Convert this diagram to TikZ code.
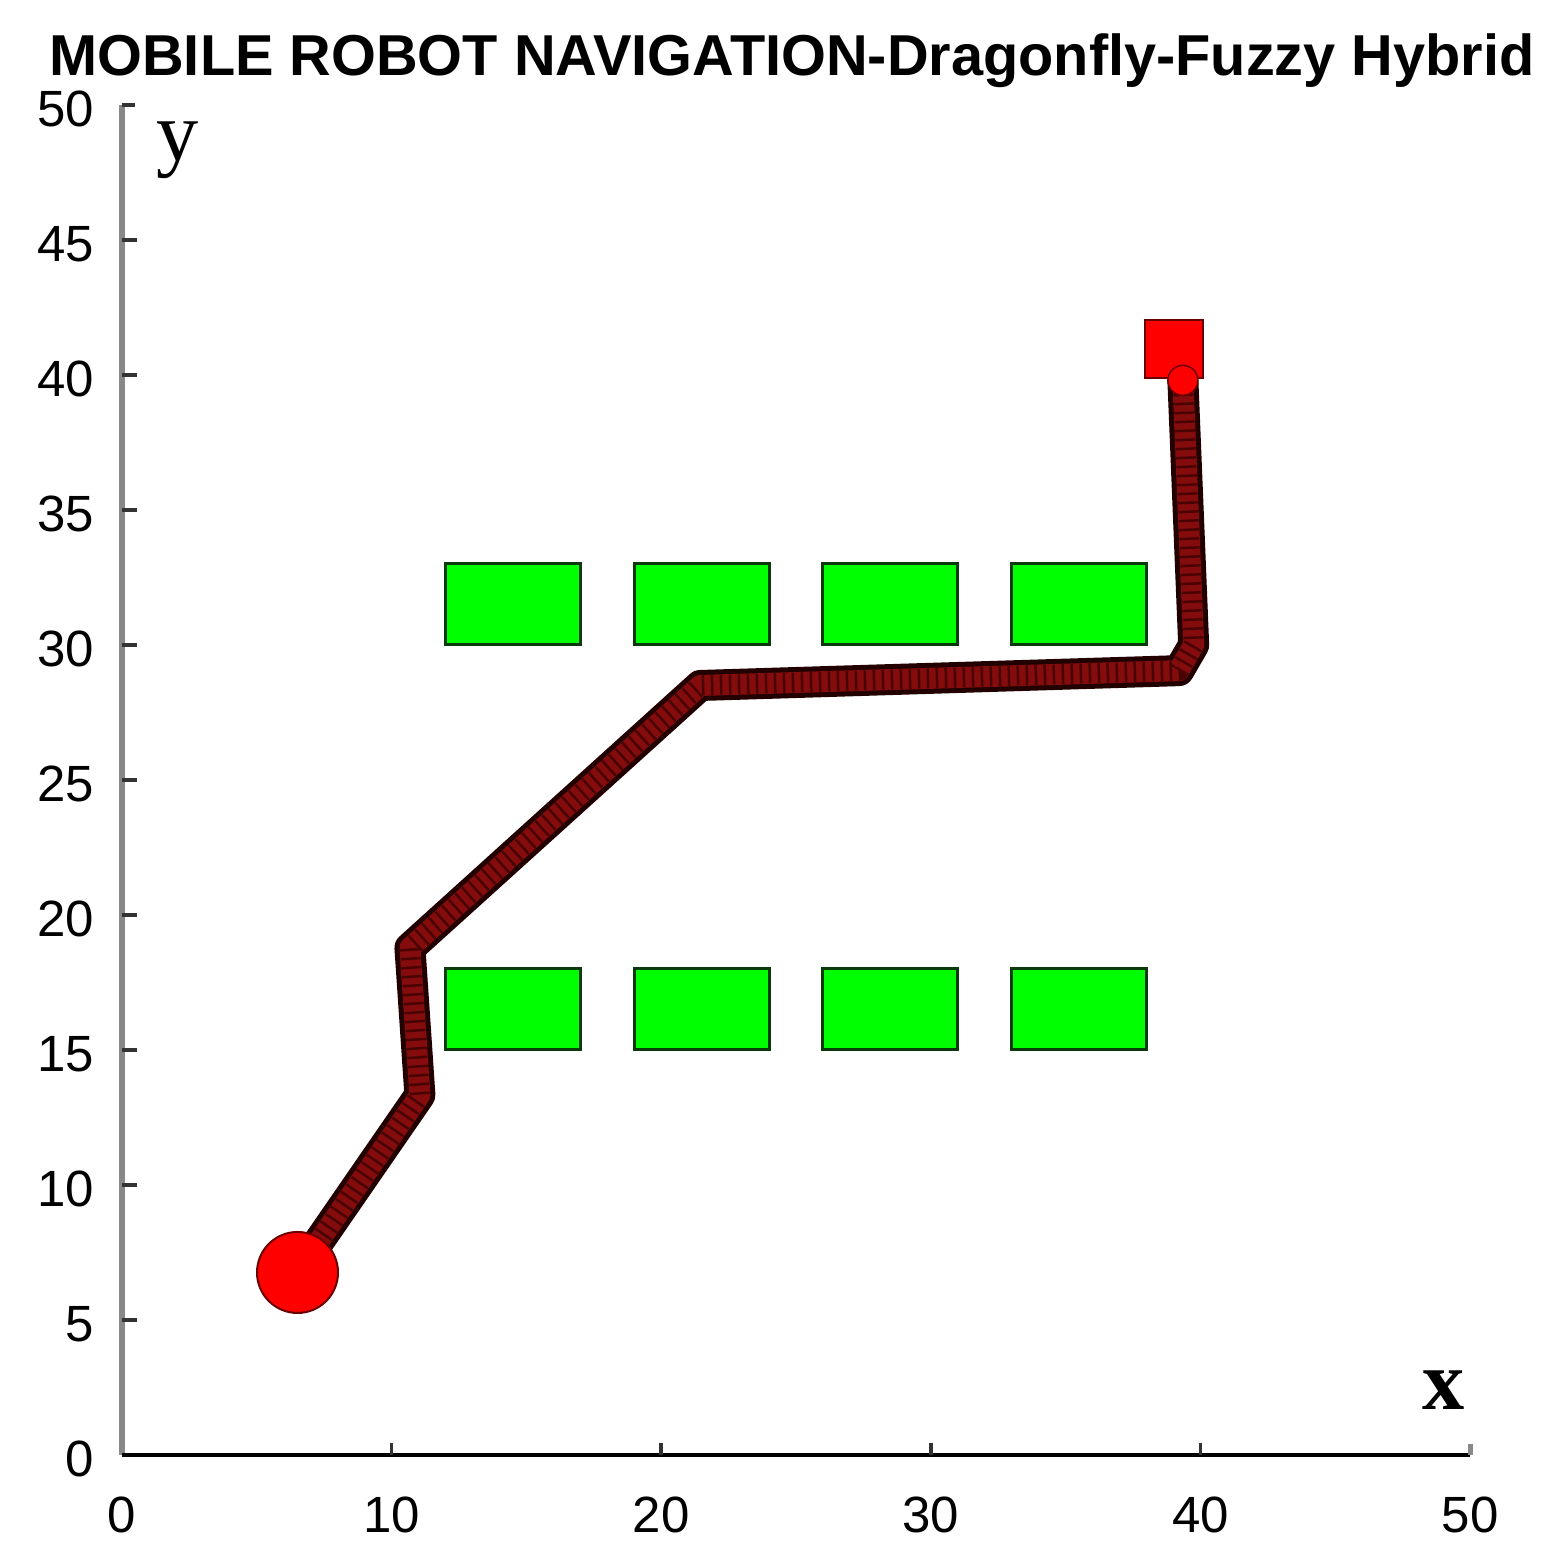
\documentclass[tikz,border=0pt]{standalone}
\usepackage{fontspec}
\setmainfont{Liberation Sans}
\newfontfamily\serifx{Liberation Serif}
\pgfdeclarelayer{bg}
\pgfsetlayers{bg,main}
\definecolor{obstfill}{HTML}{00FF00}
\definecolor{obstedge}{HTML}{0A3A0A}
\definecolor{darkred}{HTML}{6A0000}
\definecolor{pathdark}{HTML}{220000}
\definecolor{pathmid}{HTML}{850C0C}
\definecolor{pathstripe}{HTML}{4A0303}
\definecolor{axisgray}{HTML}{888888}
\definecolor{tickc}{HTML}{333333}
\begin{document}
\begin{tikzpicture}[x=0.2696cm,y=0.27cm,
  obst/.style={draw=obstedge,fill=obstfill,line width=0.03cm},
  startdot/.style={circle,draw=darkred,fill=red,line width=0.02cm,minimum size=0.81cm,inner sep=0pt},
  goalbox/.style={rectangle,draw=darkred,fill=red,line width=0.025cm,minimum size=0.58cm,inner sep=0pt},
  enddot/.style={circle,draw=darkred,fill=red,line width=0.015cm,minimum size=0.3cm,inner sep=0pt},
  ticklab/.style={font=\fontsize{14.5}{16}\selectfont,inner sep=0pt},
  axlab/.style={font=\serifx\fontsize{24}{28}\selectfont,inner sep=0pt,anchor=base},
  pathouter/.style={line width=0.31cm,draw=pathdark,line join=round},
  pathinner/.style={line width=0.21cm,draw=pathmid,line join=round},
  pathmarks/.style={line width=0.20cm,draw=pathstripe,dash pattern=on 0.025cm off 0.065cm,line join=round}]
\path[use as bounding box] (-4.525,-3.778) rectangle (53.635,53.889);
\begin{pgfonlayer}{bg}
\fill[white] (-4.525,-3.778) rectangle (53.635,53.889);
\end{pgfonlayer}
% title
\node[anchor=base,inner sep=0pt] (title) at (24.85,51.1) {\resizebox{14.85cm}{!}{\bfseries MOBILE ROBOT NAVIGATION-Dragonfly-Fuzzy Hybrid}};
% axes
\draw[axisgray,line width=0.06cm] (0,0) -- (0,50);
\draw[black,line width=0.04cm] (0,0) -- (50,0);
\foreach \v in {5,10,...,45} \draw[tickc,line width=0.035cm] (0,\v) -- ++(0.56,0);
\draw[tickc,line width=0.035cm] (0,50) -- ++(0.5,0);
\foreach \v in {10,20,30,40} \draw[tickc,line width=0.035cm] (\v,0) -- ++(0,0.44);
\draw[axisgray,line width=0.05cm] (50,0) -- ++(0,0.4);
\foreach \v in {0,5,...,50} \node[ticklab,anchor=east] (yl\v) at (-1.0,\v-0.15) {\v};
\foreach \v in {0,10,...,50} \node[ticklab] (xl\v) at (\v,-2.22) {\v};
\node[axlab] (ylab) at (2.08,47.96) {y};
\node[axlab,font=\serifx\bfseries\fontsize{24}{28}\selectfont] (xlab) at (49.03,1.67) {x};
% obstacles
\foreach \a/\b in {12/17,19/24,26/31,33/38} {
  \draw[obst] (\a,30) rectangle (\b,33);
  \draw[obst] (\a,15) rectangle (\b,18);
}
% path waypoints
\coordinate (p1) at (11.05,13.33);
\coordinate (p2) at (10.68,18.78);
\coordinate (p3) at (21.45,28.5);
\coordinate (p4) at (39.2,29.05);
\coordinate (p5) at (39.75,30.0);
% start, goal, robot
\node[goalbox] (goal) at (39.02,40.96) {};
\node[enddot] (robot) at (39.35,39.8) {};
\node[startdot] (start) at (6.51,6.76) {};
\begin{pgfonlayer}{bg}
\draw[pathouter] (start.center) -- (p1) -- (p2) -- (p3) -- (p4) -- (p5) -- (robot.center);
\draw[pathinner] (start.center) -- (p1) -- (p2) -- (p3) -- (p4) -- (p5) -- (robot.center);
\draw[pathmarks] (start.center) -- (p1) -- (p2) -- (p3) -- (p4) -- (p5) -- (robot.center);
\end{pgfonlayer}
\end{tikzpicture}
\end{document}
